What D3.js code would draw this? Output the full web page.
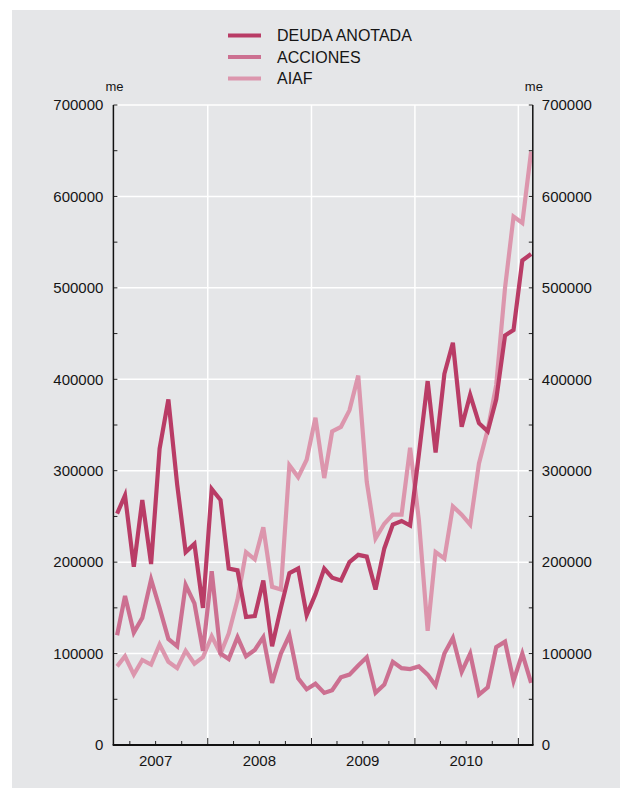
<!DOCTYPE html>
<html>
<head>
<meta charset="utf-8">
<script src="https://cdn.jsdelivr.net/npm/d3@7"></script>
<style>
  html, body { margin: 0; padding: 0; background: #ffffff; }
  svg { display: block; font-family: "Liberation Sans", Arial, Helvetica, sans-serif; }
</style>
</head>
<body>
<svg id="chart" width="630" height="796"></svg>
<script>
// Monthly observations, Feb 2007 – Feb 2011 (values in miles de euros)
const firstMonth = new Date(2007, 1, 15);
const monthCount = 49;

const deudaAnotada = [
  253000, 273000, 195000, 268000, 198000, 324000, 378000, 285000, 211000, 220000, 150000,
  280000, 268000, 193000, 191000, 140000, 141000, 180000, 108000, 150000, 188000, 193000, 142000,
  165000, 193000, 183000, 180000, 200000, 208000, 206000, 170000, 215000, 241000, 245000, 240000,
  318000, 398000, 320000, 406000, 440000, 348000, 383000, 352000, 343000, 378000, 448000, 454000,
  530000, 537000
];
const acciones = [
  120000, 163000, 123000, 139000, 181000, 150000, 116000, 108000, 175000, 155000, 103000,
  190000, 100000, 94000, 118000, 97000, 104000, 118000, 68000, 100000, 120000, 73000, 61000,
  67000, 57000, 60000, 74000, 77000, 87000, 96000, 57000, 66000, 91000, 84000, 83000,
  86000, 77000, 65000, 100000, 117000, 80000, 100000, 55000, 63000, 107000, 113000, 70000,
  100000, 68000
];
const aiaf = [
  86000, 97000, 77000, 93000, 88000, 110000, 91000, 84000, 103000, 89000, 96000,
  119000, 100000, 122000, 159000, 211000, 203000, 238000, 173000, 170000, 306000, 293000, 312000,
  358000, 292000, 343000, 348000, 366000, 404000, 288000, 226000, 242000, 252000, 252000, 325000,
  246000, 125000, 211000, 204000, 261000, 252000, 241000, 308000, 345000, 394000, 500000, 578000,
  571000, 649000
];

const seriesNames = ["DEUDA ANOTADA", "ACCIONES", "AIAF"];
const seriesColors = ["#b93c66", "#cc7091", "#dc96ad"];
const yTicks = [0, 100000, 200000, 300000, 400000, 500000, 600000, 700000];
const yearLabels = [2007, 2008, 2009, 2010];
const unitLabel = "me";

const months = d3.range(monthCount).map(i => d3.timeMonth.offset(firstMonth, i));
const seriesValues = [deudaAnotada, acciones, aiaf];

const textColor = "#151515";
const svg = d3.select("#chart");

// panel background
svg.append("rect")
  .attr("x", 12).attr("y", 10)
  .attr("width", 608).attr("height", 778)
  .attr("fill", "#e5e6e8");

const plotLeft = 113.4, plotRight = 532.8, plotTop = 105, plotBottom = 745;

const x = d3.scaleTime()
  .domain([new Date(2007, 1, 2), new Date(2011, 1, 21)])
  .range([plotLeft, plotRight]);

const y = d3.scaleLinear()
  .domain([0, 700000])
  .range([plotBottom, plotTop]);

// white grid: horizontal at each 100000, vertical at year boundaries
const grid = svg.append("g");
grid.selectAll("line.h")
  .data(yTicks.filter(d => d > 0))
  .join("line")
  .attr("class", "h")
  .attr("x1", plotLeft).attr("x2", plotRight)
  .attr("y1", d => y(d)).attr("y2", d => y(d))
  .attr("stroke", "#ffffff").attr("stroke-width", 1.5);

const yearBounds = [2008, 2009, 2010, 2011].map(yr => new Date(yr, 0, 1));
grid.selectAll("line.v")
  .data(yearBounds)
  .join("line")
  .attr("class", "v")
  .attr("x1", d => x(d)).attr("x2", d => x(d))
  .attr("y1", plotTop).attr("y2", plotBottom)
  .attr("stroke", "#ffffff").attr("stroke-width", 1.5);

// series lines (AIAF first so DEUDA sits on top)
const line = d3.line()
  .x((d, i) => x(months[i]))
  .y(d => y(d));

const order = [2, 1, 0];
svg.append("g")
  .selectAll("path")
  .data(order)
  .join("path")
  .attr("d", k => line(seriesValues[k]))
  .attr("fill", "none")
  .attr("stroke", k => seriesColors[k])
  .attr("stroke-width", 4.2)
  .attr("stroke-linejoin", "miter")
  .attr("stroke-miterlimit", 4);

// axes
const minorTicks = d3.range(0, 700001, 50000);

const leftAxis = d3.axisLeft(y)
  .tickValues(yTicks)
  .tickFormat(d3.format("d"))
  .tickSize(0)
  .tickPadding(10);
const gl = svg.append("g").attr("transform", `translate(${plotLeft},0)`).call(leftAxis);

const rightAxis = d3.axisRight(y)
  .tickValues(yTicks)
  .tickFormat(d3.format("d"))
  .tickSize(0)
  .tickPadding(9);
const gr = svg.append("g").attr("transform", `translate(${plotRight},0)`).call(rightAxis);

[gl, gr].forEach(g => {
  g.select(".domain").remove();
  g.selectAll("text").attr("font-size", 15).attr("fill", textColor)
    .attr("font-family", "'Liberation Sans', Arial, sans-serif");
});

// inward tick marks on both vertical axes
svg.append("g").selectAll("line")
  .data(minorTicks)
  .join("line")
  .attr("x1", plotLeft).attr("x2", plotLeft + 4)
  .attr("y1", d => y(d)).attr("y2", d => y(d))
  .attr("stroke", "#222").attr("stroke-width", 1);
svg.append("g").selectAll("line")
  .data(minorTicks)
  .join("line")
  .attr("x1", plotRight).attr("x2", plotRight - 4)
  .attr("y1", d => y(d)).attr("y2", d => y(d))
  .attr("stroke", "#222").attr("stroke-width", 1);

// vertical axis lines
svg.append("line")
  .attr("x1", plotLeft).attr("x2", plotLeft).attr("y1", plotTop).attr("y2", plotBottom)
  .attr("stroke", "#111").attr("stroke-width", 1.5);
svg.append("line")
  .attr("x1", plotRight).attr("x2", plotRight).attr("y1", plotTop).attr("y2", plotBottom)
  .attr("stroke", "#111").attr("stroke-width", 1.5);

// bottom axis: quarter ticks, longer ticks at year boundaries
const quarters = d3.timeMonth.every(3).range(new Date(2007, 0, 1), new Date(2011, 1, 21))
  .filter(d => x(d) > plotLeft + 1);
svg.append("g").selectAll("line")
  .data(quarters)
  .join("line")
  .attr("x1", d => x(d)).attr("x2", d => x(d))
  .attr("y1", plotBottom)
  .attr("y2", d => plotBottom - (d.getMonth() === 0 ? 7 : 4))
  .attr("stroke", "#222").attr("stroke-width", 1);

svg.append("line")
  .attr("x1", plotLeft - 0.75).attr("x2", plotRight + 0.75)
  .attr("y1", plotBottom).attr("y2", plotBottom)
  .attr("stroke", "#111").attr("stroke-width", 2.2);

svg.append("g").selectAll("text")
  .data(yearLabels)
  .join("text")
  .attr("x", d => x(new Date(d, 6, 1)))
  .attr("y", plotBottom + 20.5)
  .attr("text-anchor", "middle")
  .attr("font-size", 15)
  .attr("fill", textColor)
  .text(d => d);

// unit labels above each axis
svg.append("text")
  .attr("x", plotLeft - 8).attr("y", 91)
  .attr("font-size", 13).attr("fill", textColor)
  .text(unitLabel);
svg.append("text")
  .attr("x", plotRight - 8).attr("y", 91)
  .attr("font-size", 13).attr("fill", textColor)
  .text(unitLabel);

// legend
const legend = svg.append("g");
seriesNames.forEach((name, i) => {
  const ly = 35.5 + i * 21.5;
  legend.append("line")
    .attr("x1", 228).attr("x2", 261)
    .attr("y1", ly).attr("y2", ly)
    .attr("stroke", seriesColors[i]).attr("stroke-width", 4.2);
  legend.append("text")
    .attr("x", 277).attr("y", ly + 5.5)
    .attr("font-size", 16).attr("fill", textColor)
    .text(name);
});
</script>
</body>
</html>
